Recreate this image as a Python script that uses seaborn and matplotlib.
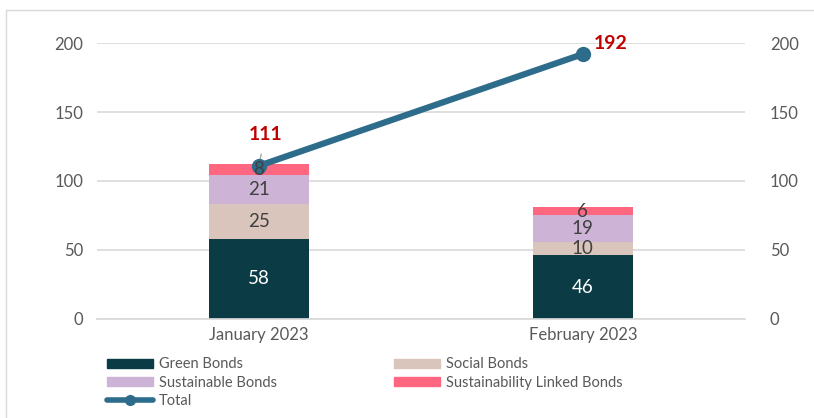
import pandas as pd
import matplotlib.pyplot as plt
import seaborn as sns
from matplotlib.patches import Patch, Rectangle
from matplotlib.lines import Line2D

sns.set_theme(style="white")
plt.rcParams['font.family'] = ['Lato', 'DejaVu Sans']

months = ['January 2023', 'February 2023']
series = ['Green Bonds', 'Social Bonds', 'Sustainable Bonds', 'Sustainability Linked Bonds']
green = [58, 46]
social = [25, 10]
sustainable = [21, 19]
linked = [8, 6]
total = [111, 192]

colors = {
    'Green Bonds': '#0B3C46',
    'Social Bonds': '#D9C5BB',
    'Sustainable Bonds': '#CDB4D7',
    'Sustainability Linked Bonds': '#FF6680',
}
line_color = '#2E6C8B'
text_gray = '#595959'

df = pd.DataFrame({'month': months, 'Green Bonds': green, 'Social Bonds': social,
                   'Sustainable Bonds': sustainable, 'Sustainability Linked Bonds': linked})
cum = df[series].cumsum(axis=1)
cum['month'] = months

fig = plt.figure(figsize=(8.14, 4.18), dpi=100)
ax = fig.add_axes([0.119, 0.237, 0.796, 0.66])

# stacked bars: draw cumulative tops from largest to smallest
for s in reversed(series):
    sns.barplot(data=cum, x='month', y=s, color=colors[s], ax=ax, width=0.31,
                order=months, saturation=1, linewidth=0, zorder=2)

ax.set_xlim(-0.5, 1.5)
ax.set_ylim(0, 200)
ax.set_yticks([0, 50, 100, 150, 200])
ax.yaxis.grid(True, color='#D9D9D9', linewidth=1.2, zorder=0)
ax.set_axisbelow(True)
ax.set_xlabel('')
ax.set_ylabel('')
for sp in ax.spines.values():
    sp.set_visible(False)
ax.spines['bottom'].set_visible(True)
ax.spines['bottom'].set_color('#D9D9D9')
ax.tick_params(axis='both', colors=text_gray, labelsize=12, length=0, pad=10)
ax.tick_params(axis='x', pad=6)

# total on secondary axis
ax2 = ax.twinx()
ax2.set_ylim(0, 200)
ax2.set_yticks([0, 50, 100, 150, 200])
sns.lineplot(x=[0, 1], y=total, ax=ax2, color=line_color, linewidth=4.5,
             marker='o', markersize=11, markeredgewidth=0, zorder=5)
for sp in ax2.spines.values():
    sp.set_visible(False)
ax2.tick_params(axis='y', colors=text_gray, labelsize=12, length=0, pad=18)
ax2.set_ylabel('')

# segment labels (on top of the line, as in the original)
for i, m in enumerate(months):
    base = 0
    for s in series:
        v = df.loc[i, s]
        c = 'white' if s == 'Green Bonds' else '#404040'
        ax2.text(i, base + v / 2, str(v), ha='center', va='center', fontsize=13.5, color=c, zorder=6)
        base += v

ax2.annotate(str(total[0]), xy=(0, total[0]), xytext=(0.02, total[0] + 23),
             ha='center', va='center', fontsize=14, fontweight='bold', color='#C00000',
             arrowprops=dict(arrowstyle='-', color='#A6A6A6', lw=1, shrinkA=6, shrinkB=0))
ax2.text(1.035, total[1] + 8, str(total[1]), ha='left', va='center', fontsize=14,
         fontweight='bold', color='#C00000')

handles = [
    Patch(color=colors['Green Bonds'], label='Green Bonds'),
    Patch(color=colors['Sustainable Bonds'], label='Sustainable Bonds'),
    Line2D([], [], color=line_color, lw=4, marker='o', markersize=7, label='Total'),
    Patch(color=colors['Social Bonds'], label='Social Bonds'),
    Patch(color=colors['Sustainability Linked Bonds'], label='Sustainability Linked Bonds'),
]
leg = fig.legend(handles=handles, ncol=2, loc='upper left', bbox_to_anchor=(0.131, 0.145),
                 frameon=False, fontsize=10.5, handlelength=3.2, handleheight=0.55,
                 columnspacing=8.0, labelspacing=0.3, handletextpad=0.4,
                 borderaxespad=0, borderpad=0)
for t in leg.get_texts():
    t.set_color(text_gray)

fig.patches.append(Rectangle((0.007, -0.01), 1.0, 0.985, transform=fig.transFigure,
                             fill=False, edgecolor='#D9D9D9', linewidth=1))

fig.savefig('out.png', dpi=100)
